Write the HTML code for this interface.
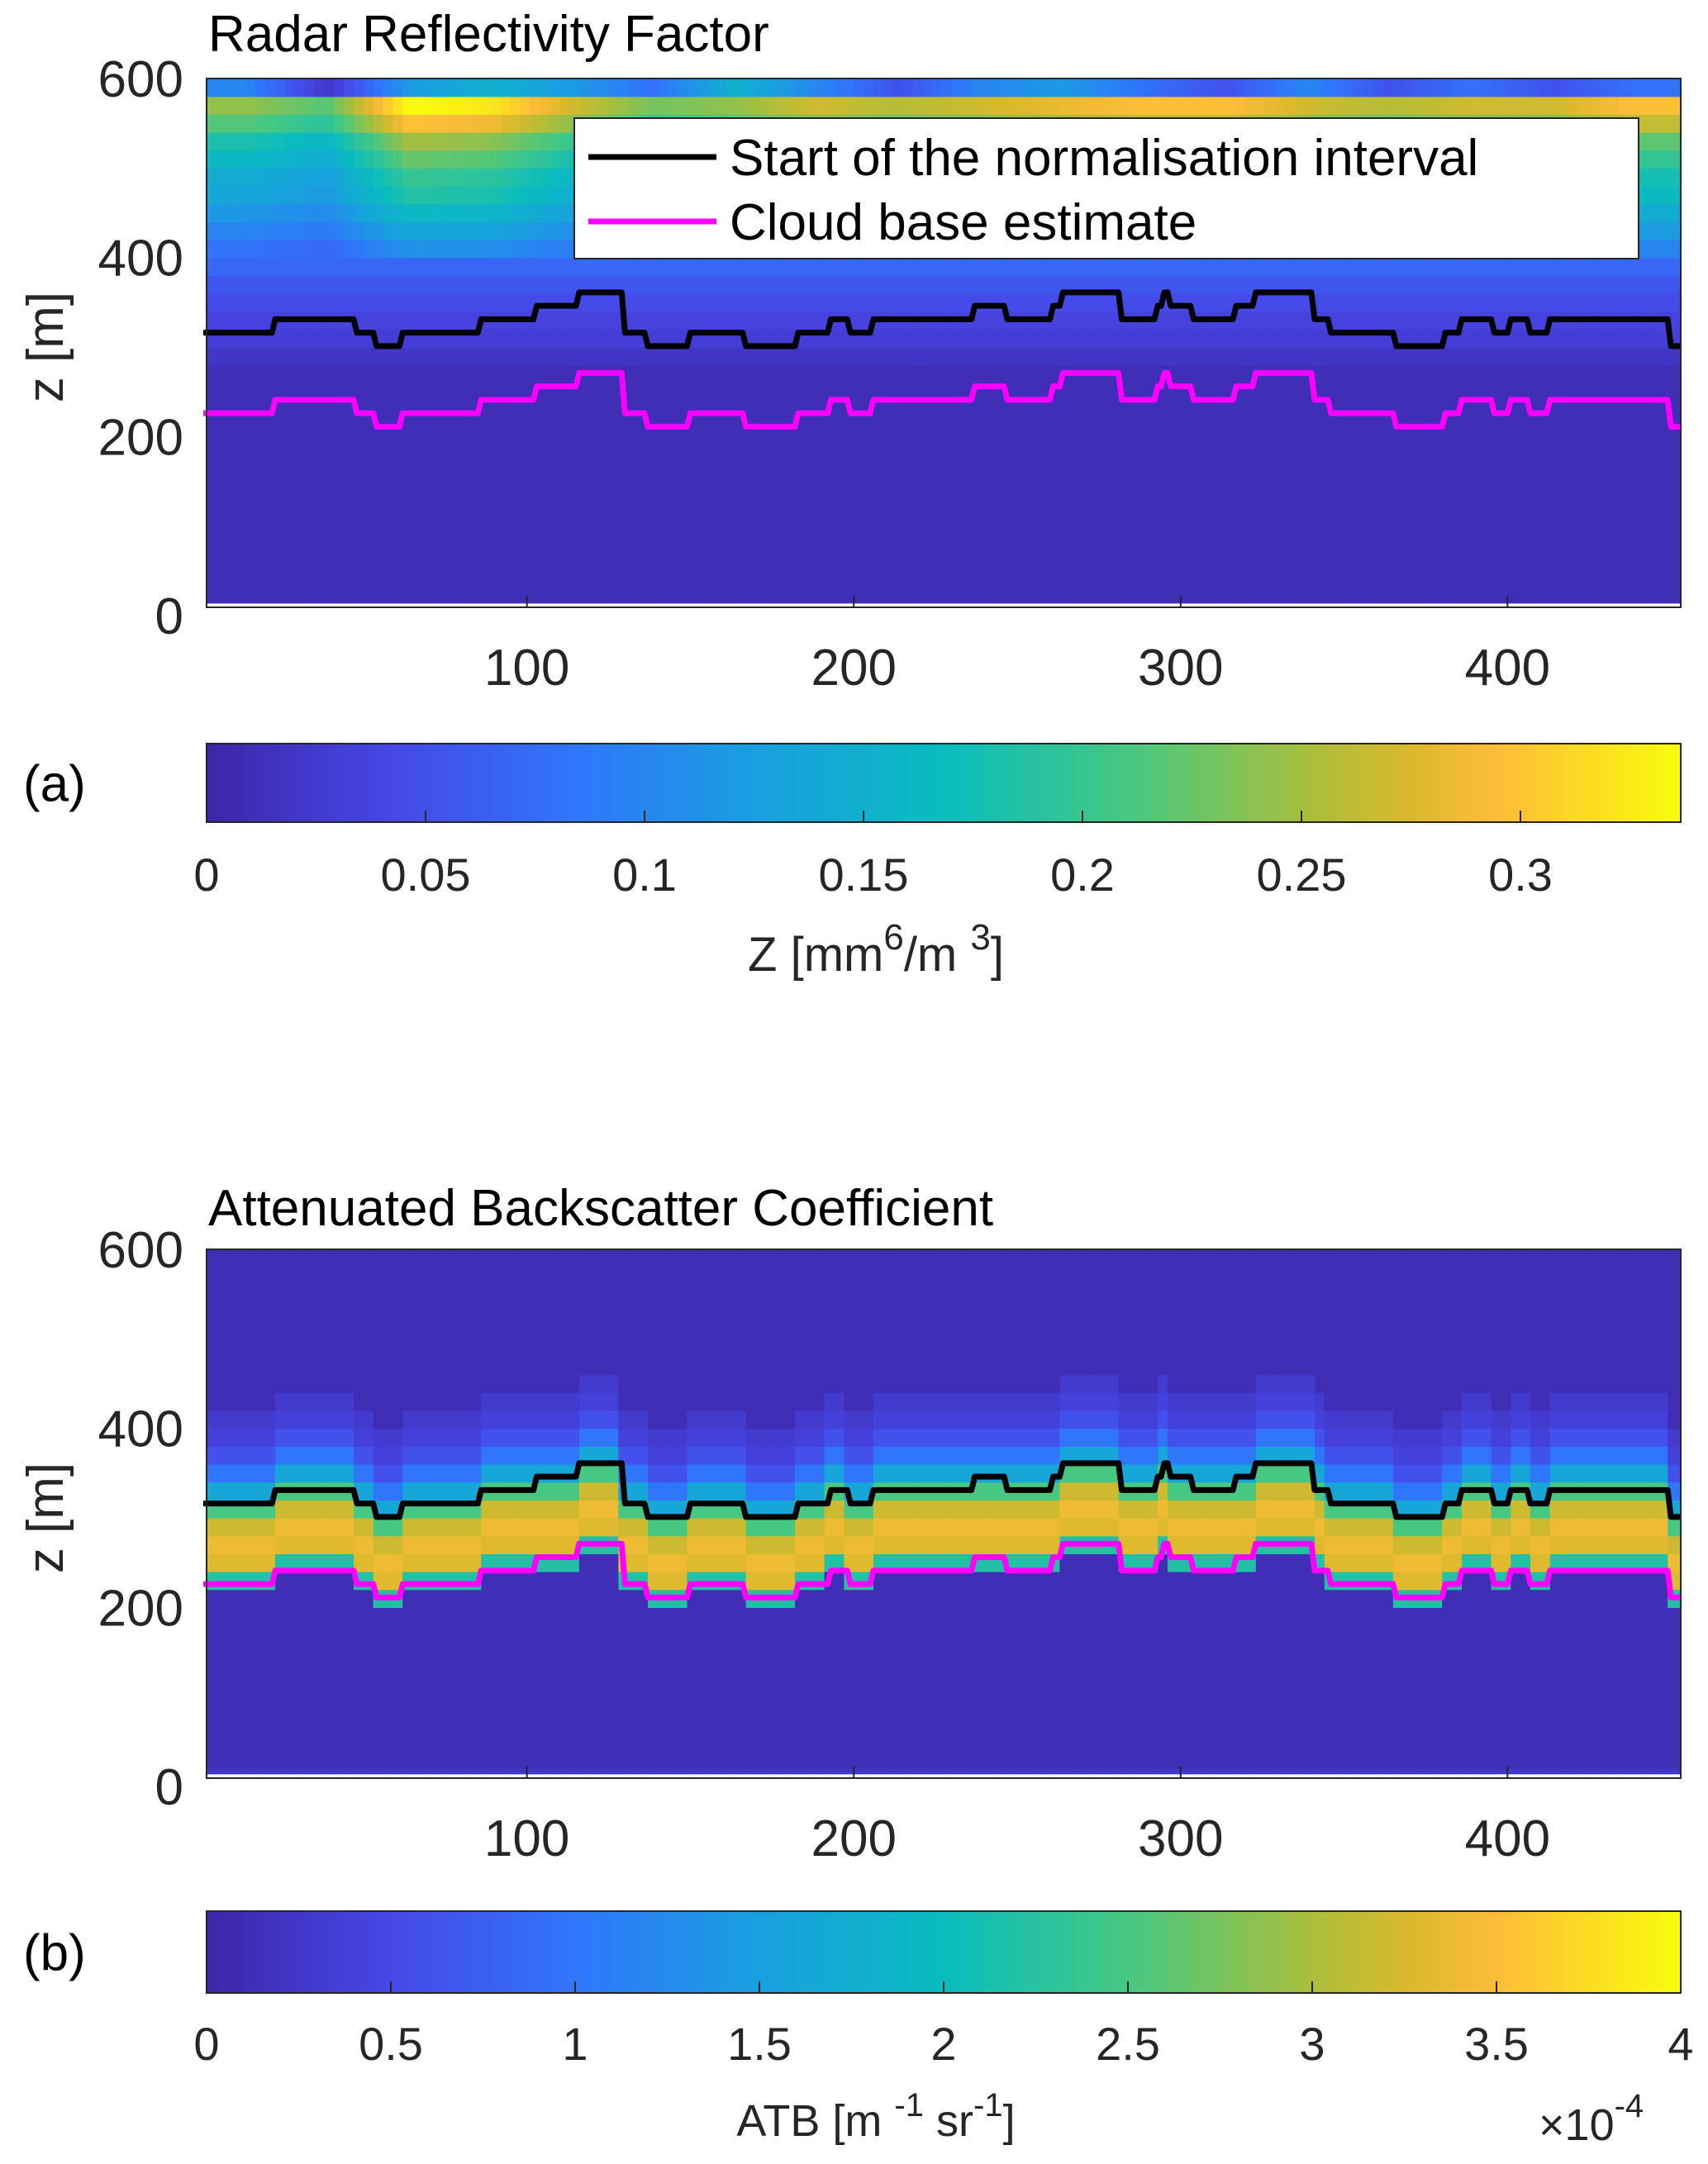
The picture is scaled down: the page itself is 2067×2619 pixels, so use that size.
<!DOCTYPE html>
<html><head><meta charset="utf-8"><style>
html,body{margin:0;padding:0;background:#fff;}
svg{display:block;}
text{font-family:"Liberation Sans",Arial,sans-serif;fill:#262626;}
</style></head><body>
<svg id="fig" width="2067" height="2619" viewBox="0 0 2067 2619" xmlns="http://www.w3.org/2000/svg">
<defs>
<clipPath id="clipA"><rect x="250" y="92" width="1784" height="643"/></clipPath>
<clipPath id="clipB"><rect x="250" y="1509" width="1784" height="643"/></clipPath>
</defs>
<g id="pa"></g>
<g id="pb"></g>
</svg>
<script>
// ---- data ----
const xTicks = [100, 200, 300, 400];
const yTicks = [0, 200, 400, 600];
const lineX = [1,22,47,53,61,85,102,115,129,136,149,166,182,192,198,205,236,246,260,263,281,292,294,296,297,303,316,322,340,345,365,380,385,395,400,406,412,449,453];
const normStart = [316,331,316,301,316,331,346,361,316,301,316,301,316,331,316,331,346,331,346,361,331,346,361,346,346,331,346,361,331,316,301,316,331,316,331,316,331,301];
const cloudBase = [226,241,226,211,226,241,256,271,226,211,226,211,226,241,226,241,256,241,256,271,241,256,271,256,256,241,256,271,241,226,211,226,241,226,241,226,241,211];
// radar profile (20 m bins, 0-600 m), Z [mm6/m3]
const radarProfile = [0.01,0.01,0.01,0.01,0.01,0.01,0.01,0.01,0.01,0.01,0.01,0.01,0.01,0.01,0.02,0.03,0.035,0.045,0.055,0.07,0.09,0.11,0.13,0.15,0.16,0.18,0.2,0.24,0.27,0.1];
// column modulation of upper radar layer (25-unit chunks)
const radarCol = [0.9,0.8,1.25,1.2,1.0,0.85,0.9,1.0,0.95,1.0,1.05,1.1,1.1,1.0,0.95,1.0,1.0,1.1];
const radarTop = [0.1,0.02,0.12,0.15,0.12,0.08,0.15,0.1,0.05,0.1,0.12,0.08,0.05,0.1,0.05,0.08,0.05,0.08];
// ATB profile relative to cloud base (20 m bins starting at cloudbase-20), x1e-4
const atbRel = [2.2,3.3,3.4,3.2,2.5,1.6,1.0,0.6,0.4,0.3];
const atbBackground = 0.12;
const cbTicksA = [0,0.05,0.1,0.15,0.2,0.25,0.3];
const cbTicksB = [0,0.5,1,1.5,2,2.5,3,3.5,4];

// ---- colormap ----
const stops=[[0,62,38,168],[0.125,70,72,232],[0.25,48,118,250],[0.375,25,160,222],[0.5,10,188,190],[0.625,70,200,130],[0.75,170,190,60],[0.82,220,185,45],[0.875,252,188,58],[1,249,251,14]];
function cmap(t){t=Math.max(0,Math.min(1,t));for(let i=1;i<stops.length;i++){if(t<=stops[i][0]){const a=stops[i-1],b=stops[i];const f=(t-a[0])/(b[0]-a[0]);return `rgb(${Math.round(a[1]+f*(b[1]-a[1]))},${Math.round(a[2]+f*(b[2]-a[2]))},${Math.round(a[3]+f*(b[3]-a[3]))})`;}}return 'rgb(249,251,14)';}

const NS='http://www.w3.org/2000/svg';
function el(tag,attrs,parent){const e=document.createElementNS(NS,tag);for(const k in attrs)e.setAttribute(k,attrs[k]);parent.appendChild(e);return e;}
const L=250,R=2034;
const xs=v=>L+(v-2)*(R-L)/451;
function stepAt(arr,x){for(let i=0;i<lineX.length-1;i++){if(x<lineX[i+1])return arr[i];}return arr[arr.length-1];}
function colFactor(arr,x){const p=x/25-0.5;const i=Math.max(0,Math.min(arr.length-1,Math.floor(p)));const j=Math.min(arr.length-1,i+1);const f=Math.max(0,Math.min(1,p-i));return arr[i]*(1-f)+arr[j]*f;}

function panel(g,off,kind){
  const ys=z=>745+off-z*1.0833;
  const top=ys(600), bot=735+off;
  const hm=el('g',{'clip-path':kind==='a'?'url(#clipA)':'url(#clipB)'},g);
  
  
  const dx=3;
  for(let x=2;x<453;x+=dx){
    const cf=colFactor(radarCol,x), ct=colFactor(radarTop,x);
    const cb=stepAt(cloudBase,x+1);
    for(let b=0;b<30;b++){
      const z0=b*20;let v,t;
      if(kind==='a'){
        if(b===29){v=ct;}
        else if(b>=20){v=radarProfile[b]*cf;}
        else v=radarProfile[b];
        t=v/0.3366;
      } else {
        const rel=Math.floor((z0-(cb-20))/20);
        v=(rel>=0&&rel<atbRel.length)?atbRel[rel]:(z0<20?0.25:atbBackground);
        t=v/4;
      }
      const y1=ys(Math.min(600,z0+20)), y2=Math.min(bot-5,ys(Math.max(14,z0)));
      if(y2<=y1)continue;
      const r=el('rect',{x:xs(x).toFixed(1),y:y1.toFixed(1),width:(dx*3.955+0.6).toFixed(1),height:(y2-y1+0.6).toFixed(1),fill:cmap(t)},hm);
      
      
    }
  }
  function line(arr,color,name){
    let pts=[];
    for(let i=0;i<arr.length;i++){pts.push(xs(lineX[i]+(i?1:0))+','+ys(arr[i]));pts.push(xs(lineX[i+1])+','+ys(arr[i]));}
    const p=el('polyline',{points:pts.join(' '),fill:'none',stroke:color,'stroke-width':7,'stroke-linejoin':'round'},g);
    
    
  }
  line(normStart,'#000','normalisation-start-line');
  line(cloudBase,'#ff00ff','cloud-base-line');
  const ax=el('rect',{x:L,y:top,width:R-L,height:bot-top,fill:'none',stroke:'#262626','stroke-width':2},g);
  
  
  xTicks.forEach(v=>{
    el('line',{x1:xs(v),x2:xs(v),y1:bot,y2:bot-14,stroke:'#262626','stroke-width':2},g);
    const t=el('text',{x:xs(v),y:bot+94,'font-size':62,'text-anchor':'middle'},g);t.textContent=v;
    
    
  });
  yTicks.forEach(v=>{
    const t=el('text',{x:222,y:ys(v)+22,'font-size':62,'text-anchor':'end'},g);t.textContent=v;
    
    
  });
  const yl=el('text',{x:0,y:0,'font-size':62,'text-anchor':'middle',transform:`translate(76,${ys(300)}) rotate(-90)`},g);yl.textContent='z [m]';
  
  
}
const pa=document.getElementById('pa'),pb=document.getElementById('pb');
panel(pa,0,'a');panel(pb,1417,'b');

function title(g,txt,y){const t=el('text',{x:252,y:y,'font-size':62},g);t.textContent=txt;t.style.fill='#000';
 
 }
title(pa,'Radar Reflectivity Factor',62);
title(pb,'Attenuated Backscatter Coefficient',1483);

const lg=el('g',{},pa);


el('rect',{x:695,y:143,width:1288,height:170,fill:'#fff',stroke:'#262626','stroke-width':2},lg);
el('line',{x1:712,x2:867,y1:190,y2:190,stroke:'#000','stroke-width':7},lg);
el('line',{x1:712,x2:867,y1:268,y2:268,stroke:'#ff00ff','stroke-width':7},lg);
const l1=el('text',{x:883,y:212,'font-size':62},lg);l1.textContent='Start of the normalisation interval';l1.style.fill='#000';


const l2=el('text',{x:883,y:290,'font-size':62},lg);l2.textContent='Cloud base estimate';l2.style.fill='#000';



function colorbar(g,y0,h,ticks,maxV,labelY,tag){
  const cb=el('g',{},g);
  
  
  const n=200;
  for(let i=0;i<n;i++){el('rect',{x:L+i*(R-L)/n,y:y0,width:(R-L)/n+0.8,height:h,fill:cmap(i/(n-1))},cb);}
  el('rect',{x:L,y:y0,width:R-L,height:h,fill:'none',stroke:'#262626','stroke-width':2},cb);
  ticks.forEach(v=>{const x=L+v/maxV*(R-L);
    el('line',{x1:x,x2:x,y1:y0+h,y2:y0+h-14,stroke:'#262626','stroke-width':2},cb);
    const t=el('text',{x:x,y:labelY,'font-size':56,'text-anchor':'middle'},cb);t.textContent=v;
    
    });
  const tg=el('text',{x:28,y:y0+h/2+22,'font-size':62},g);tg.textContent=tag;tg.style.fill='#000';
  
  
}
colorbar(pa,900,95,cbTicksA,0.3366,1078,'(a)');
colorbar(pb,2313,99,cbTicksB,4,2493,'(b)');

const ta=el('text',{x:1060,y:1175,'font-size':58,'text-anchor':'middle'},pa);
ta.innerHTML='Z [mm<tspan dy="-26" font-size="44">6</tspan><tspan dy="26">/m </tspan><tspan dy="-26" font-size="44">3</tspan><tspan dy="26">]</tspan>';


const tb=el('text',{x:1060,y:2585,'font-size':54,'text-anchor':'middle'},pb);
tb.innerHTML='ATB [m <tspan dy="-24" font-size="40">-1</tspan><tspan dy="24"> sr</tspan><tspan dy="-24" font-size="40">-1</tspan><tspan dy="24">]</tspan>';


const ex=el('text',{x:1862,y:2590,'font-size':54},pb);
ex.innerHTML='×10<tspan dy="-28" font-size="40">-4</tspan>';


</script>
</body></html>
